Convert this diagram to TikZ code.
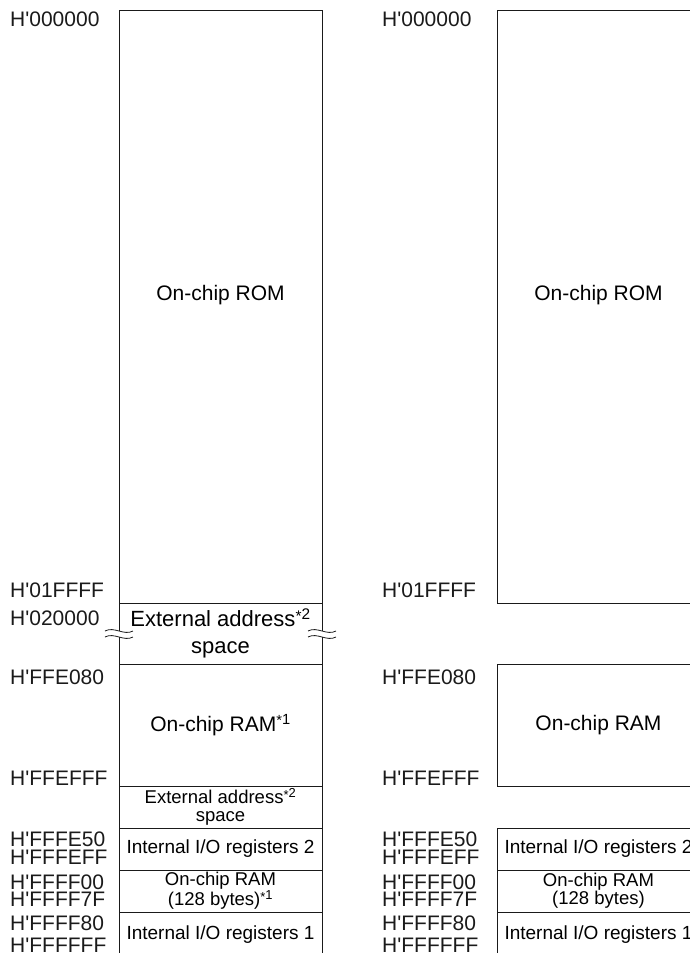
\documentclass[tikz,border=0pt]{standalone}
\usepackage{fontspec}
\setmainfont{Liberation Sans}
\usepackage{xcolor}
\usetikzlibrary{positioning,calc}
\definecolor{ink}{HTML}{1A1A1A}
\newcommand\mapfont{\fontsize{21}{27}\selectfont}
\newcommand\extfont{\fontsize{22}{27}\selectfont}
\newcommand\iofont{\fontsize{19}{19}\selectfont}
\newcommand\mapsmall{\fontsize{18.5}{18}\selectfont}
\newcommand\hq{H\textquotesingle}
\newcommand\note[1]{\textsuperscript{\raisebox{-0.12em}{*}#1}}
\tikzset{
  region/.style={
    draw=ink, line width=0.9pt, minimum width=203pt, inner sep=0pt,
    outer sep=0pt, anchor=north west, align=center, font=\mapfont
  },
  smallregion/.style={region, font=\mapsmall},
  ioregion/.style={region, font=\iofont},
  addr/.style={anchor=west, inner sep=0pt, font=\mapfont, text=ink},
  breakwave/.style={draw=ink, line width=0.8pt}
}

\begin{document}
\begin{tikzpicture}[x=1pt,y=-1pt]
  \useasboundingbox (0,0) rectangle (690,953);
  \clip (0,0) rectangle (690,953);

  % left map
  \node[region, minimum height=593pt] (lrom) at (119,10) {};
  \node[font=\mapfont] (lromtxt) at ($(lrom.center)+(0,-11)$) {On-chip ROM};
  \node[region, draw=none, minimum height=61pt, font=\extfont] (lext) [below=0pt of lrom]
    {External address\note{2}\\space};
  \node[region, minimum height=122pt] (lram) [below=0pt of lext] {On-chip RAM\note{1}};
  \node[smallregion, minimum height=42pt] (lext2) [below=0pt of lram]
    {External address\note{2}\\space};
  \node[ioregion, minimum height=42pt] (lio2) [below=0pt of lext2] {Internal I/O registers 2};
  \node[smallregion, minimum height=42pt] (lsram) [below=0pt of lio2]
    {On-chip RAM\\(128 bytes)\note{1}};
  \node[ioregion, minimum height=46pt] (lio1) [below=0pt of lsram] {Internal I/O registers 1};

  % broken sides of the external space
  \draw[breakwave] (lext.north west) -- ($(lext.north west)!.46!(lext.south west)$)
    ($(lext.north west)!.56!(lext.south west)$) -- (lext.south west);
  \draw[breakwave] (lext.north east) -- ($(lext.north east)!.46!(lext.south east)$)
    ($(lext.north east)!.56!(lext.south east)$) -- (lext.south east);
  \foreach \side in {west,east}
    \foreach \dy in {-2.5,3.5}
      \draw[breakwave] ($(lext.\side)+(-14,\dy)$)
        .. controls ($(lext.\side)+(-5,\dy-5)$) and ($(lext.\side)+(5,\dy+5)$)
        .. ($(lext.\side)+(14,\dy)$);

  % right map
  \node[region, minimum height=593pt] (rrom) at (497,10) {};
  \node[font=\mapfont] (rromtxt) at ($(rrom.center)+(0,-11)$) {On-chip ROM};
  \node[region, minimum height=122pt] (rram) at (497,664) {On-chip RAM};
  \node[ioregion, minimum height=42pt] (rio2) at (497,828) {Internal I/O registers 2};
  \node[smallregion, minimum height=42pt] (rsram) [below=0pt of rio2] {On-chip RAM\\(128 bytes)};
  \node[ioregion, minimum height=46pt] (rio1) [below=0pt of rsram] {Internal I/O registers 1};

  % addresses, left
  \node[addr] (la0) at (10,19) {\hq000000};
  \node[addr] (la1) at (10,590) {\hq01FFFF};
  \node[addr] (la2) at (10,618) {\hq020000};
  \node[addr] (la3) at (10,677) {\hq FFE080};
  \node[addr] (la4) at (10,778) {\hq FFEFFF};
  \node[addr] (la5) at (10,839.5) {\hq FFFE50};
  \node[addr] (la6) at (10,857.5) {\hq FFFEFF};
  \node[addr] (la7) at (10,882.5) {\hq FFFF00};
  \node[addr] (la8) at (10,899) {\hq FFFF7F};
  \node[addr] (la9) at (10,923.5) {\hq FFFF80};
  \node[addr] (la10) at (10,945.5) {\hq FFFFFF};

  % addresses, right
  \node[addr] (ra0) at (382,19) {\hq000000};
  \node[addr] (ra1) at (382,590) {\hq01FFFF};
  \node[addr] (ra3) at (382,677) {\hq FFE080};
  \node[addr] (ra4) at (382,778) {\hq FFEFFF};
  \node[addr] (ra5) at (382,839.5) {\hq FFFE50};
  \node[addr] (ra6) at (382,857.5) {\hq FFFEFF};
  \node[addr] (ra7) at (382,882.5) {\hq FFFF00};
  \node[addr] (ra8) at (382,899) {\hq FFFF7F};
  \node[addr] (ra9) at (382,923.5) {\hq FFFF80};
  \node[addr] (ra10) at (382,945.5) {\hq FFFFFF};
\end{tikzpicture}
\end{document}
